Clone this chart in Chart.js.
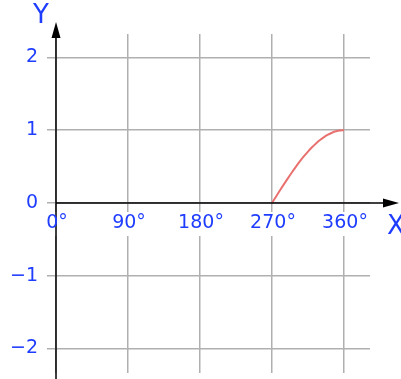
<!DOCTYPE html>
<html>
<head>
<meta charset="utf-8">
<script src="https://cdn.jsdelivr.net/npm/chart.js@4"></script>
<style>
  html, body { margin: 0; padding: 0; background: #fff; }
  #wrap { width: 401px; height: 379px; }
</style>
</head>
<body>
<div id="wrap"><canvas id="chart"></canvas></div>
<script>
// data
const xTicks = [0, 90, 180, 270, 360];
const xTickLabels = ['0°', '90°', '180°', '270°', '360°'];
const yTicks = [-2, -1, 0, 1, 2];
const yTickLabels = ['−2', '−1', '0', '1', '2'];
const curveX = [270, 275, 280, 285, 290, 295, 300, 305, 310, 315, 320, 325, 330, 335, 340, 345, 350, 355, 360];
const curveY = [0, 0.087, 0.174, 0.259, 0.342, 0.423, 0.5, 0.574, 0.643, 0.707, 0.766, 0.819, 0.866, 0.906, 0.94, 0.966, 0.985, 0.996, 1];

const blue = '#1f3dff';
const labelFont = '19px "DejaVu Sans", sans-serif';

const axesPlugin = {
    id: 'axesPlugin',
    afterDatasetsDraw(chart) {
        const ctx = chart.ctx;
        const xs = chart.scales.x, ys = chart.scales.y;
        const x0 = xs.getPixelForValue(0);
        const y0 = ys.getPixelForValue(0);
        ctx.save();

        // white boxes behind x labels (they break the grid lines)
        ctx.font = labelFont;
        xTicks.forEach((v, i) => {
            const px = xs.getPixelForValue(v);
            const w = ctx.measureText(xTickLabels[i]).width;
            ctx.fillStyle = '#fff';
            ctx.fillRect(px - w / 2 - 2, y0 + 9, w + 4, 24);
        });

        // axes with arrows
        ctx.strokeStyle = '#000';
        ctx.fillStyle = '#000';
        ctx.lineWidth = 1.5;
        ctx.beginPath();
        ctx.moveTo(x0, chart.height);
        ctx.lineTo(x0, 30);
        ctx.moveTo(x0, y0);
        ctx.lineTo(390, y0);
        ctx.stroke();
        ctx.beginPath();
        ctx.moveTo(x0, 22); ctx.lineTo(x0 - 4.5, 38); ctx.lineTo(x0 + 4.5, 38);
        ctx.closePath(); ctx.fill();
        ctx.beginPath();
        ctx.moveTo(399, y0); ctx.lineTo(383, y0 - 4.5); ctx.lineTo(383, y0 + 4.5);
        ctx.closePath(); ctx.fill();

        // tick labels
        ctx.fillStyle = blue;
        ctx.textBaseline = 'middle';
        ctx.textAlign = 'center';
        xTicks.forEach((v, i) => {
            ctx.fillText(xTickLabels[i], xs.getPixelForValue(v) + 1, y0 + 20);
        });
        ctx.textAlign = 'right';
        yTicks.forEach((v, i) => {
            ctx.fillText(yTickLabels[i], 38, ys.getPixelForValue(v));
        });

        // axis names
        ctx.font = '26px "DejaVu Sans", sans-serif';
        ctx.textAlign = 'center';
        ctx.fillText('Y', 41, 16);
        ctx.fillText('X', 396, y0 + 24);
        ctx.restore();
    }
};

new Chart(document.getElementById('chart'), {
    type: 'scatter',
    data: {
        datasets: [{
            data: curveX.map((x, i) => ({ x: x, y: curveY[i] })),
            showLine: true,
            borderColor: '#e8716f',
            borderWidth: 2,
            pointRadius: 0,
            cubicInterpolationMode: 'monotone',
            fill: false
        }]
    },
    options: {
        responsive: true,
        maintainAspectRatio: false,
        animation: false,
        layout: { padding: { left: 47, top: 34, right: 31, bottom: 6 } },
        plugins: { legend: { display: false }, tooltip: { enabled: false } },
        scales: {
            x: {
                type: 'linear',
                min: -11.25,
                max: 392.5,
                afterBuildTicks: s => { s.ticks = xTicks.map(v => ({ value: v })); },
                ticks: { display: false },
                grid: { color: '#b0b0b0', lineWidth: 1.5, drawTicks: false },
                border: { display: false }
            },
            y: {
                type: 'linear',
                min: -2.337,
                max: 2.323,
                afterBuildTicks: s => { s.ticks = yTicks.map(v => ({ value: v })); },
                ticks: { display: false },
                grid: { color: '#b0b0b0', lineWidth: 1.5, drawTicks: false },
                border: { display: false }
            }
        }
    },
    plugins: [axesPlugin]
});
</script>
</body>
</html>
